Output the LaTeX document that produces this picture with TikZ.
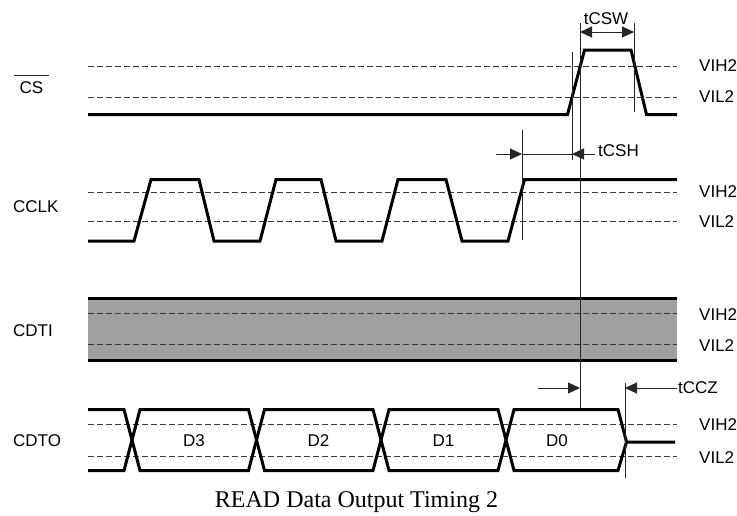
\documentclass[tikz,border=0pt]{standalone}
\usepackage{fontspec}
\setmainfont{Liberation Serif}
\setsansfont{Liberation Sans}
\usetikzlibrary{arrows.meta}
\definecolor{band}{HTML}{A0A0A0}
\definecolor{dashc}{HTML}{3A3A3A}
\begin{document}
\begin{tikzpicture}[x=1pt,y=-1pt,
  sig/.style={line width=3pt, black, line join=miter},
  refl/.style={line width=1pt, draw=dashc, dash pattern=on 6pt off 3pt},
  tl/.style={line width=1pt, draw=black!85},
  lbl/.style={font=\sffamily\fontsize{17}{20}\selectfont, inner sep=0pt},
  tipr/.style={-{Triangle[length=12pt,width=11pt]}},
  tipb/.style={{Triangle[length=12pt,width=11pt]}-{Triangle[length=12pt,width=11pt]}}
]
\useasboundingbox (0,0) rectangle (737,515);

% ---------- CS ----------
\draw[refl] (88,66) -- (677,66);
\draw[refl] (88,97) -- (677,97);
\draw[sig] (88,114.5) -- (567.5,114.5) -- (584.5,50) -- (631,50) -- (646.5,114.5) -- (677,114.5);

% ---------- CCLK ----------
\draw[refl] (88,192) -- (677,192);
\draw[refl] (88,221) -- (677,221);
\draw[sig] (88,241) -- (134,241) -- (151,179.5) -- (199,179.5) -- (214,241)
  -- (260,241) -- (276,179.5) -- (321,179.5) -- (336,241)
  -- (382,241) -- (398,179.5) -- (446,179.5) -- (462,241)
  -- (508,241) -- (524.5,179.5) -- (677,179.5);

% ---------- CDTI ----------
\fill[band] (88,298) rectangle (677,360);
\draw[refl] (88,313.5) -- (677,313.5);
\draw[refl] (88,344.5) -- (677,344.5);
\draw[sig] (88,298) -- (677,298);
\draw[sig] (88,360) -- (677,360);

% ---------- CDTO ----------
\draw[refl] (88,424.5) -- (677,424.5);
\draw[refl] (88,456) -- (677,456);
\draw[sig] (88,409.5) -- (124,409.5) -- (140,470.5) -- (248.5,470.5) -- (264.5,409.5)
  -- (373,409.5) -- (389,470.5) -- (498,470.5) -- (514,409.5) -- (618,409.5)
  -- (626.5,442) -- (675,442);
\draw[sig] (88,470.5) -- (124,470.5) -- (140,409.5) -- (248.5,409.5) -- (264.5,470.5)
  -- (373,470.5) -- (389,409.5) -- (498,409.5) -- (514,470.5) -- (618,470.5)
  -- (626.5,442);

% ---------- timing reference lines ----------
\coordinate (a1) at (572,52);   \coordinate (a2) at (572,160);
\coordinate (b1) at (580,23);   \coordinate (b2) at (580,408);
\coordinate (c1) at (634,23);   \coordinate (c2) at (634,112);
\coordinate (d1) at (522,130);  \coordinate (d2) at (522,240);
\coordinate (e1) at (625,383);  \coordinate (e2) at (625,478);
\draw[tl] (a1) -- (a2);
\draw[tl] (b1) -- (b2);
\draw[tl] (c1) -- (c2);
\draw[tl] (d1) -- (d2);
\draw[tl] (e1) -- (e2);

% tCSW
\coordinate (wL) at (580,32); \coordinate (wR) at (634,32);
\draw[tl, tipb] (wL) -- (wR);
\node[lbl] (ltcsw) at (606,19) {tCSW};

% tCSH
\coordinate (h0) at (496,154); \coordinate (h1) at (522,154);
\coordinate (h2) at (572,154); \coordinate (h3) at (595,154);
\draw[tl, tipr] (h0) -- (h1);
\draw[tl] (h1) -- (h2);
\draw[tl, tipr] (h3) -- (h2);
\node[lbl, anchor=west] (ltcsh) at (598,151) {tCSH};

% tCCZ
\coordinate (z0) at (538,388); \coordinate (z1) at (580,388);
\coordinate (z2) at (625,388); \coordinate (z3) at (677,388);
\draw[tl, tipr] (z0) -- (z1);
\draw[tl, tipr] (z3) -- (z2);
\node[lbl, anchor=west] (ltccz) at (678,388) {tCCZ};

% ---------- signal names ----------
\node[lbl, inner xsep=5.5pt] (lcs) at (31.5,88) {CS};
\draw[tl] ([yshift=6pt]lcs.north west) -- ([yshift=6pt]lcs.north east);
\node[lbl, anchor=west] (lcclk) at (13,207) {CCLK};
\node[lbl, anchor=west] (lcdti) at (13,331) {CDTI};
\node[lbl, anchor=west] (lcdto) at (13,441) {CDTO};

% ---------- levels ----------
\node[lbl, anchor=west] (h2a) at (699,66) {VIH2};
\node[lbl, anchor=west] (l2a) at (699,97) {VIL2};
\node[lbl, anchor=west] (h2b) at (699,192) {VIH2};
\node[lbl, anchor=west] (l2b) at (699,222) {VIL2};
\node[lbl, anchor=west] (h2c) at (699,315) {VIH2};
\node[lbl, anchor=west] (l2c) at (699,346) {VIL2};
\node[lbl, anchor=west] (h2d) at (699,425) {VIH2};
\node[lbl, anchor=west] (l2d) at (699,458) {VIL2};

% ---------- data labels ----------
\node[lbl] (d3) at (194,441) {D3};
\node[lbl] (d2) at (318.5,441) {D2};
\node[lbl] (dd1) at (443.5,441) {D1};
\node[lbl] (d0) at (557,441) {D0};

% ---------- caption ----------
\node[font=\fontsize{24}{28}\selectfont, anchor=base, inner sep=0pt] (cap) at (356.5,507) {READ Data Output Timing 2};
\end{tikzpicture}
\end{document}
